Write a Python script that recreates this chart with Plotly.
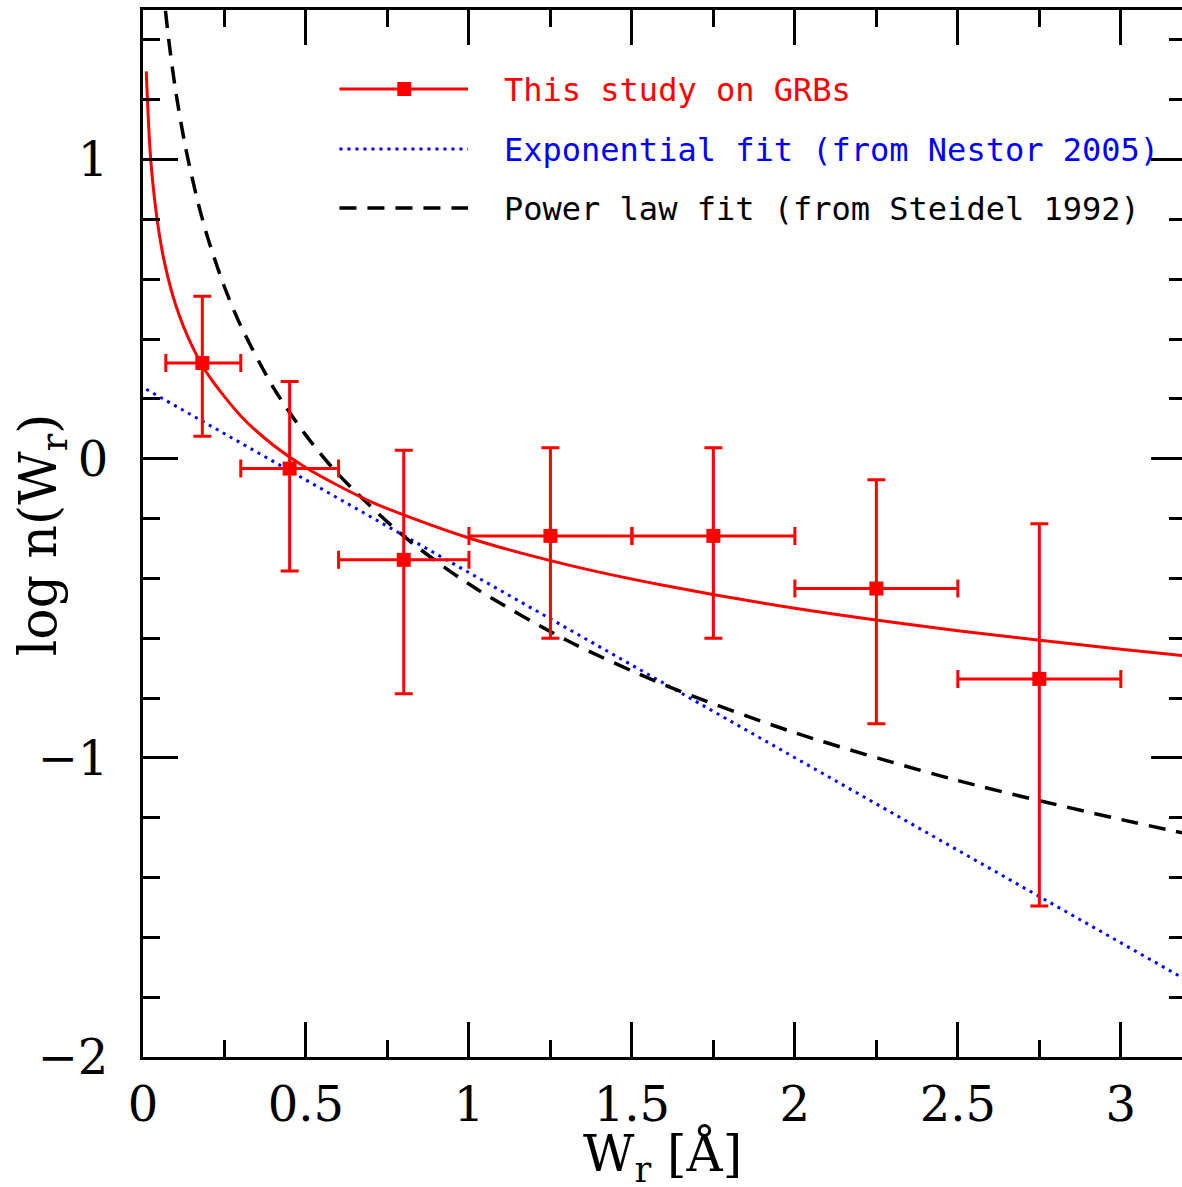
import plotly.graph_objects as go

# ---- measured data points (This study on GRBs) ----
w_center = [0.182, 0.45, 0.80, 1.25, 1.75, 2.25, 2.75]
w_bin_lo = [0.07, 0.30, 0.60, 1.00, 1.50, 2.00, 2.50]
w_bin_hi = [0.30, 0.60, 1.00, 1.50, 2.00, 2.50, 3.00]
logn = [0.320, -0.033, -0.338, -0.258, -0.258, -0.434, -0.736]
logn_hi = [0.543, 0.258, 0.028, 0.037, 0.037, -0.070, -0.217]
logn_lo = [0.075, -0.375, -0.786, -0.600, -0.600, -0.886, -1.495]

# ---- curves ----
red_x = [0.01, 0.02, 0.03, 0.05, 0.07, 0.10, 0.15, 0.20, 0.30, 0.40, 0.50, 0.70,
         1.00, 1.30, 1.60, 2.00, 2.50, 3.00, 3.20]
red_y = [1.295, 1.060, 0.923, 0.750, 0.636, 0.515, 0.378, 0.280, 0.143, 0.045, -0.030,
         -0.144, -0.265, -0.354, -0.424, -0.500, -0.575, -0.637, -0.659]

blue_x = [0.01, 0.50, 1.00, 1.50, 2.00, 2.50, 3.00, 3.20]
blue_y = [0.232, -0.071, -0.380, -0.690, -0.999, -1.309, -1.618, -1.742]

black_x = [0.069, 0.08, 0.10, 0.13, 0.17, 0.20, 0.25, 0.30, 0.40, 0.50, 0.60, 0.80,
           1.00, 1.30, 1.60, 2.00, 2.50, 3.00, 3.20]
black_y = [1.497, 1.391, 1.231, 1.043, 0.851, 0.734, 0.574, 0.444, 0.238, 0.078, -0.053,
           -0.259, -0.419, -0.607, -0.756, -0.916, -1.076, -1.206, -1.253]

legend_labels = ["This study on GRBs", "Exponential fit (from Nestor 2005)",
                 "Power law fit (from Steidel 1992)"]
legend_colors = ["#ff0000", "#0000ff", "#000000"]

x_ticks = [0, 0.5, 1, 1.5, 2, 2.5, 3]
x_tick_text = ["0", "0.5", "1", "1.5", "2", "2.5", "3"]
y_ticks = [-2, -1, 0, 1]
y_tick_text = ["\u22122", "\u22121", "0", "1"]

RED = "#ff0000"
BLUE = "#0000ff"
W, H = 1190, 1187
L, R, T, B = 143, 1, 10, 130
XR = [0, 3.2]
YR = [-2, 1.5]

fig = go.Figure()

fig.add_trace(go.Scatter(x=blue_x, y=blue_y, mode="lines",
                         line=dict(color=BLUE, width=3, dash="3px,5px"),
                         showlegend=False, hoverinfo="skip"))
fig.add_trace(go.Scatter(x=black_x, y=black_y, mode="lines",
                         line=dict(color="black", width=3.5, dash="17px,11px", shape="spline", smoothing=0.8),
                         showlegend=False, hoverinfo="skip"))
fig.add_trace(go.Scatter(x=red_x, y=red_y, mode="lines",
                         line=dict(color=RED, width=3, shape="spline", smoothing=0.8),
                         showlegend=False, hoverinfo="skip"))

ex_plus = [h - c for h, c in zip(w_bin_hi, w_center)]
ex_minus = [c - l for c, l in zip(w_center, w_bin_lo)]
ey_plus = [h - c for h, c in zip(logn_hi, logn)]
ey_minus = [c - l for c, l in zip(logn, logn_lo)]

fig.add_trace(go.Scatter(
    x=w_center, y=logn, mode="markers",
    marker=dict(symbol="square", size=14, color=RED),
    error_x=dict(type="data", symmetric=False, array=ex_plus, arrayminus=ex_minus,
                 color=RED, thickness=3, width=9),
    error_y=dict(type="data", symmetric=False, array=ey_plus, arrayminus=ey_minus,
                 color=RED, thickness=3, width=9),
    showlegend=False))

tickfont = dict(family="DejaVu Serif", size=48, color="black")
common = dict(showgrid=False, zeroline=False, ticks="inside", tickwidth=3,
              tickcolor="black", linecolor="black", linewidth=3,
              showline=True, mirror="ticks")

fig.update_layout(
    width=W, height=H,
    margin=dict(l=L, r=R, t=T, b=B, pad=0),
    plot_bgcolor="white", paper_bgcolor="white",
    xaxis=dict(range=XR, tickvals=x_ticks, ticktext=x_tick_text, ticklen=35,
               tickfont=tickfont, ticklabelstandoff=3,
               minor=dict(dtick=0.25, tick0=0, ticklen=17, tickwidth=3, ticks="inside",
                          tickcolor="black", showgrid=False),
               **common),
    yaxis=dict(range=YR, tickvals=y_ticks, ticktext=y_tick_text, ticklen=35,
               tickfont=tickfont, ticklabelstandoff=22,
               minor=dict(dtick=0.2, tick0=0, ticklen=17, tickwidth=3, ticks="inside",
                          tickcolor="black", showgrid=False),
               **common),
)

pw = W - L - R
ph = H - T - B

def px_x(p):  # page pixel -> paper coordinate
    return (p - L) / pw

def px_y(p):
    return (H - B - p) / ph

# axis titles
fig.add_annotation(text="log n(W<sub>r</sub>)", xref="paper", yref="paper",
                   x=px_x(42), y=px_y(535), textangle=-90, showarrow=False,
                   xanchor="center", yanchor="middle",
                   font=dict(family="DejaVu Serif", size=52, color="black"))
fig.add_annotation(text="W<sub>r</sub> [Å]", xref="paper", yref="paper",
                   x=px_x(664), y=px_y(1157), showarrow=False,
                   xanchor="center", yanchor="middle",
                   font=dict(family="DejaVu Serif", size=50, color="black"))

# legend (drawn manually)
leg_y = [89, 149, 208]
leg_x0, leg_x1, leg_tx = 340, 469, 503
styles = [dict(color=RED, width=3), dict(color=BLUE, width=3, dash="3px,5px"),
          dict(color="black", width=3.5, dash="17px,11px")]
for lab, col, yy, st in zip(legend_labels, legend_colors, leg_y, styles):
    fig.add_shape(type="line", xref="paper", yref="paper",
                  x0=px_x(leg_x0), x1=px_x(leg_x1), y0=px_y(yy), y1=px_y(yy), line=st)
    fig.add_annotation(text=lab, xref="paper", yref="paper", x=px_x(leg_tx), y=px_y(yy + 1),
                       xanchor="left", yanchor="middle", showarrow=False,
                       font=dict(family="DejaVu Sans Mono", size=32, color=col))
fig.add_shape(type="rect", xref="paper", yref="paper",
              x0=px_x(398), x1=px_x(412), y0=px_y(96), y1=px_y(82),
              fillcolor=RED, line=dict(width=0))

page_css = ("document.body.style.margin='0px';"
            "document.documentElement.style.overflow='hidden';"
            "document.body.style.overflow='hidden';")
fig.write_html("out.html", post_script=page_css, config={"displayModeBar": False})
